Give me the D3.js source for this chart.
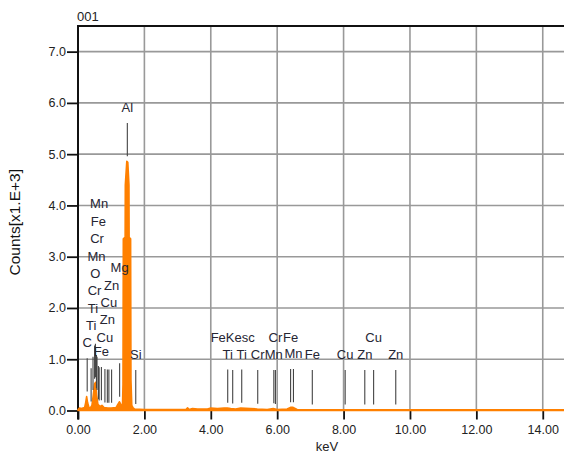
<!DOCTYPE html>
<html>
<head>
<meta charset="utf-8">
<script src="https://cdn.jsdelivr.net/npm/d3@7"></script>
<style>
  body { margin: 0; background: #fff; }
  text { font-family: "Liberation Sans", Arial, sans-serif; }
</style>
</head>
<body>
<div id="chart"></div>
<script>
const width = 564;
const height = 454;

// spectrum (keV, counts x1000)
const energy = [0, 0.05, 0.10, 0.15, 0.20, 0.23, 0.26, 0.29, 0.33, 0.37, 0.42, 0.46, 0.50, 0.53, 0.56, 0.60, 0.66, 0.72, 0.78, 0.90, 1.00, 1.15, 1.20, 1.25, 1.29, 1.32,
  1.34, 1.355, 1.365, 1.42, 1.425, 1.47, 1.50, 1.535, 1.54, 1.585, 1.595, 1.62, 1.66, 1.70, 2.00, 3.00, 3.25, 3.30, 3.35, 3.45, 3.60, 3.90, 4.00, 4.20, 4.40, 4.50,
  4.60, 4.75, 4.90, 5.20, 5.40, 5.70, 5.88, 6.00, 6.30, 6.40, 6.48, 6.60, 7.00, 10.00, 14.64];
const counts = [0.02, 0.05, 0.04, 0.05, 0.06, 0.15, 0.27, 0.15, 0.06, 0.05, 0.10, 0.30, 0.52, 0.55, 0.30, 0.12, 0.08, 0.10, 0.06, 0.05, 0.05, 0.06, 0.12, 0.17, 0.12, 0.07,
  0.08, 0.50, 3.35, 3.38, 4.40, 4.86, 4.84, 4.40, 3.38, 3.35, 0.60, 0.10, 0.05, 0.03, 0.02, 0.02, 0.02, 0.05, 0.02, 0.04, 0.03, 0.03, 0.05, 0.04, 0.05, 0.05,
  0.04, 0.03, 0.05, 0.04, 0.03, 0.02, 0.04, 0.02, 0.03, 0.06, 0.06, 0.02, 0.015, 0.015, 0.015];

// identified lines
const lineLabels = ["C", "Ti", "Ti", "Cr", "O", "Mn", "Cr", "Fe", "Mn", "Fe", "Cu", "Zn", "Cu", "Zn", "Mg", "Al", "Si",
  "Ti", "FeKesc", "Ti", "Cr", "Mn", "Cr", "Fe", "Mn", "Fe", "Cu", "Zn", "Cu", "Zn"];
const lineKeV = [0.277, 0.395, 0.452, 0.500, 0.525, 0.556, 0.573, 0.615, 0.637, 0.705, 0.811, 0.884, 0.930, 1.012, 1.254, 1.486, 1.740,
  4.510, 4.660, 4.932, 5.414, 5.899, 5.947, 6.404, 6.490, 7.058, 8.048, 8.639, 8.905, 9.572];

const yTicks = [0, 1, 2, 3, 4, 5, 6, 7];
const xTicks = [0, 2, 4, 6, 8, 10, 12, 14];

// stacking row of each label (layout)
const labelTier = [2, 5, 8, 11, 14, 17, 20, 23, 26, 0, 3, 6, 9, 12, 15, 0, 0,
  0, 3, 0, 0, 0, 3, 3, 0, 0, 0, 0, 3, 0];

const margin = { left: 78, top: 26, bottom: 43.5 };

const svg = d3.select("#chart")
  .append("svg")
  .attr("width", width)
  .attr("height", height);

const x = d3.scaleLinear().domain([0, 14.64]).range([margin.left, width]);
const y = d3.scaleLinear().domain([0, 7.5]).range([height - margin.bottom, margin.top]);

const y0 = y(0);

// grid
svg.append("g")
  .selectAll("line")
  .data(xTicks.filter(d => d > 0))
  .join("line")
  .attr("x1", d => x(d)).attr("x2", d => x(d))
  .attr("y1", margin.top).attr("y2", y0)
  .attr("stroke", "#999").attr("stroke-width", 1.6);

svg.append("g")
  .selectAll("line")
  .data(yTicks.filter(d => d > 0))
  .join("line")
  .attr("x1", margin.left).attr("x2", width)
  .attr("y1", d => y(d)).attr("y2", d => y(d))
  .attr("stroke", "#999").attr("stroke-width", 1.6);

// axes
const xAxis = svg.append("g")
  .attr("transform", `translate(0,${y0})`)
  .call(d3.axisBottom(x).tickValues(xTicks).tickSize(9).tickPadding(6).tickFormat(d3.format(".2f")));
const yAxis = svg.append("g")
  .attr("transform", `translate(${margin.left},0)`)
  .call(d3.axisLeft(y).tickValues(yTicks).tickSize(11).tickPadding(1).tickFormat(d3.format(".1f")));

[xAxis, yAxis].forEach(a => {
  a.select(".domain").remove();
  a.selectAll(".tick line").attr("stroke", "#111").attr("stroke-width", 1.8);
  a.selectAll(".tick text").attr("fill", "#222").style("font-size", "12.5px");
});

svg.append("line")
  .attr("x1", margin.left).attr("x2", margin.left)
  .attr("y1", margin.top - 1).attr("y2", y0 + 9)
  .attr("stroke", "#111").attr("stroke-width", 2);
svg.append("line")
  .attr("x1", margin.left - 1).attr("x2", width)
  .attr("y1", margin.top).attr("y2", margin.top)
  .attr("stroke", "#111").attr("stroke-width", 2);

// spectrum
const spec = energy.map((e, i) => ({ e, c: counts[i] }));

svg.append("path")
  .datum(spec)
  .attr("fill", "#ff8000")
  .attr("stroke", "#ff8000")
  .attr("stroke-width", 1.6)
  .attr("stroke-linejoin", "round")
  .attr("d", d3.area().x(d => x(d.e)).y0(y0).y1(d => y(d.c)));

// value of spectrum near an energy
const interp = d3.scaleLinear().domain(energy).range(counts);
function localMax(e) {
  let m = interp(e);
  spec.forEach(p => {
    if (Math.abs(p.e - e) <= 0.02) m = Math.max(m, p.c);
  });
  return m;
}

// line markers
const lines = lineKeV.map((e, i) => {
  const s = localMax(e);
  return {
    e,
    label: lineLabels[i],
    tier: labelTier[i],
    bottom: Math.max(0.11, s + 0.1),
    top: Math.max(0.79, s + 0.75)
  };
});

svg.append("g")
  .selectAll("line")
  .data(lines)
  .join("line")
  .attr("x1", d => x(d.e)).attr("x2", d => x(d.e))
  .attr("y1", d => y(d.top)).attr("y2", d => y(d.bottom))
  .attr("stroke", "#444").attr("stroke-width", 1.1);

const rowBase = y(0.79) - 15.5;
svg.append("g")
  .selectAll("text")
  .data(lines)
  .join("text")
  .attr("x", d => x(d.e))
  .attr("y", d => Math.min(rowBase - d.tier * 5.8, y(d.top) - 15.5))
  .attr("dy", "0.36em")
  .attr("text-anchor", "middle")
  .attr("fill", "#262633")
  .style("font-size", "13px")
  .text(d => d.label);

// titles
svg.append("text")
  .attr("x", margin.left - 1)
  .attr("y", 21)
  .attr("fill", "#222")
  .style("font-size", "13px")
  .text("001");

svg.append("text")
  .attr("transform", `translate(20,${(margin.top + y0) / 2 + 4}) rotate(-90)`)
  .attr("text-anchor", "middle")
  .attr("fill", "#111")
  .style("font-size", "15.5px")
  .text("Counts[x1.E+3]");

svg.append("text")
  .attr("x", x(7.5))
  .attr("y", 451)
  .attr("text-anchor", "middle")
  .attr("fill", "#222")
  .style("font-size", "13px")
  .text("keV");
</script>
</body>
</html>
